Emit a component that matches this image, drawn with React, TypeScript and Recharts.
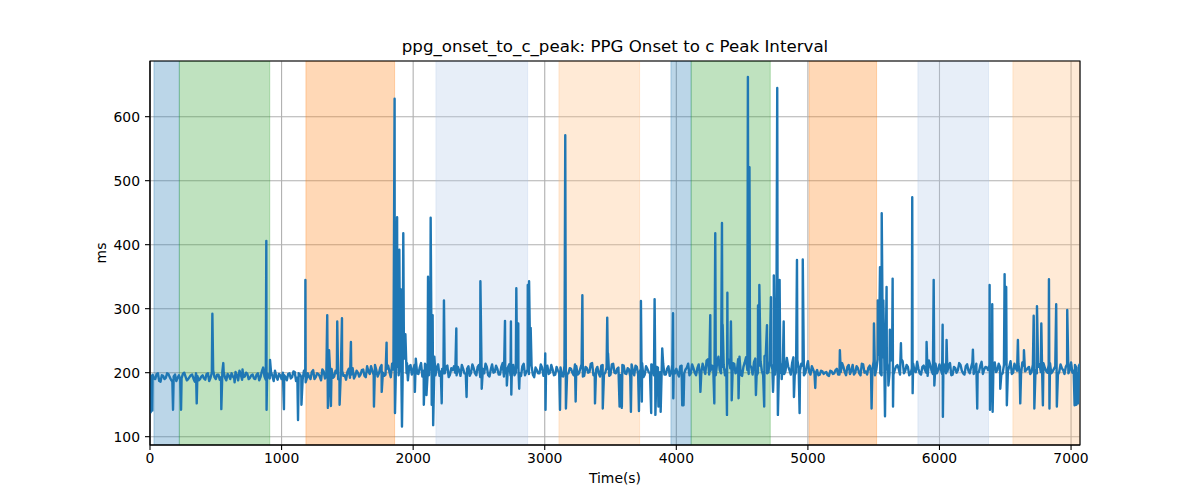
import { LineChart, Line, XAxis, YAxis, CartesianGrid, ReferenceArea } from 'recharts';

// baseline samples, one every 20 s starting at 0
const BASE_STEP = 20;
const baselineEven = [
  188, 197, 190, 199, 186, 195, 192, 198, 189, 194, 187, 196, 191, 200, 188, 193, 197, 186, 195, 190,
  196, 189, 199, 192, 204, 190, 197, 193, 201, 188, 195, 199, 191, 196, 203, 189, 194, 198, 192, 197,
  190, 199, 193, 208, 189, 196, 201, 187, 194, 198, 190, 196, 188, 199, 193, 201, 192, 197, 189, 195,
  199, 190, 204, 193, 198, 188, 202, 195, 190, 206, 194, 199, 189, 203, 196, 201, 192, 207, 195, 200,
  197, 205, 193, 202, 210, 196, 204, 199, 212, 195, 206, 201, 214, 198, 209, 215, 192, 226, 188, 212,
  205, 222, 198, 215, 203, 210, 196, 218, 201, 208, 195, 206, 199, 211, 197, 204, 200, 209, 195, 206,
  198, 210, 200, 207, 196, 212, 203, 199, 209, 194, 213, 201, 206, 197, 215, 199, 208, 196, 212, 200,
  207, 195, 214, 201, 198, 210, 193, 204, 199, 208, 196, 211, 200, 205, 197, 203, 208, 194, 212, 199,
  206, 196, 210, 199, 213, 195, 207, 201, 215, 198, 209, 194, 212, 200, 206, 197, 214, 199, 208, 195,
  211, 198, 205, 213, 196, 209, 200, 215, 197, 206, 199, 212, 195, 208, 201, 214, 197, 210, 199, 204,
  206, 194, 211, 199, 208, 196, 213, 200, 207, 195, 214, 198, 221, 203, 210, 196, 225, 199, 212, 205,
  220, 198, 214, 202, 225, 195, 216, 204, 212, 197, 222, 200, 218, 196, 228, 201, 214, 199, 226, 205,
  212, 198, 223, 204, 215, 196, 220, 203, 211, 199, 218, 197, 205, 200, 196, 203, 198, 201, 195, 202,
  199, 206, 197, 215, 201, 209, 198, 212, 200, 207, 196, 213, 202, 208, 199, 218, 205, 228, 196, 232,
  215, 198, 226, 204, 212, 197, 218, 203, 209, 198, 214, 201, 206, 197, 211, 200, 219, 203, 208, 199,
  213, 198, 209, 202, 215, 197, 207, 204, 212, 199, 210, 203, 208, 198, 214, 201, 217, 205, 208, 212,
  198, 216, 204, 209, 199, 213, 203, 218, 200, 207, 214, 198, 211, 204, 209, 201, 216, 199, 213, 205,
  208, 200, 215, 202, 210, 197, 213, 204, 209, 199, 216, 203, 208, 211,
];

// in-between samples, at 10 s + every 20 s
const baselineOdd = [
  195, 191, 198, 187, 196, 190, 199, 193, 186, 197, 192, 189, 198, 194, 190, 196, 191, 199, 188, 194,
  191, 198, 187, 200, 193, 197, 189, 202, 192, 198, 190, 194, 201, 188, 197, 193, 200, 190, 196, 191,
  197, 188, 202, 194, 199, 191, 195, 203, 189, 196, 200, 193, 198, 191, 202, 187, 199, 193, 203, 190,
  193, 201, 190, 199, 194, 205, 191, 200, 197, 192, 203, 190, 198, 195, 189, 206, 197, 191, 203, 194,
  204, 195, 210, 198, 203, 212, 194, 208, 200, 197, 211, 193, 205, 216, 196, 207, 222, 199, 210, 197,
  212, 199, 208, 194, 214, 198, 205, 211, 196, 213, 202, 199, 209, 193, 207, 210, 196, 203, 212, 199,
  206, 195, 213, 199, 209, 193, 206, 214, 196, 205, 200, 211, 197, 209, 194, 206, 213, 201, 196, 208,
  199, 210, 196, 205, 212, 197, 208, 199, 213, 195, 206, 198, 212, 196, 209, 201, 195, 211, 198, 207,
  200, 213, 197, 206, 194, 209, 200, 214, 196, 205, 199, 211, 197, 208, 195, 213, 200, 206, 197, 212,
  199, 207, 194, 203, 211, 197, 206, 193, 210, 201, 213, 196, 209, 200, 214, 197, 206, 195, 212, 199,
  199, 210, 196, 205, 214, 199, 207, 196, 213, 200, 206, 219, 197, 211, 200, 215, 204, 209, 196, 218,
  207, 215, 199, 221, 197, 209, 224, 198, 208, 216, 195, 211, 203, 226, 199, 219, 205, 197, 212, 200,
  218, 203, 210, 197, 224, 201, 207, 214, 196, 209, 201, 210, 199, 204, 197, 202, 200, 196, 203, 198,
  204, 197, 201, 209, 196, 212, 203, 197, 210, 199, 214, 200, 197, 211, 205, 196, 221, 199, 224, 205,
  202, 219, 197, 210, 206, 221, 199, 212, 196, 207, 203, 217, 199, 209, 204, 195, 212, 198, 214, 204,
  205, 214, 199, 211, 196, 209, 200, 215, 203, 197, 213, 199, 216, 205, 200, 211, 198, 209, 204, 199,
  210, 201, 214, 197, 212, 205, 209, 198, 214, 203, 199, 216, 202, 207, 198, 213, 204, 209, 201, 215,
  203, 212, 199, 206, 214, 201, 207, 198, 213, 204, 200, 212, 198,
];

// spikes and dips: [time (s), ms]
const events: [number, number][] = [
  [5, 138], [12, 195], [18, 141],
  [175, 142], [236, 142], [355, 152], [474, 292], [542, 143], [557, 215], [643, 185], [703, 205],
  [884, 406], [886, 142], [912, 220], [1018, 143],
  [1125, 126], [1151, 150], [1181, 345], [1183, 185], [1347, 290], [1352, 145], [1361, 235], [1375, 148],
  [1423, 280], [1441, 150], [1459, 285], [1527, 248], [1702, 147], [1761, 170], [1798, 247],
  [1859, 628], [1862, 137], [1872, 250], [1878, 443], [1884, 300], [1893, 205], [1895, 392], [1901, 260],
  [1908, 330], [1915, 116], [1925, 418], [1932, 240], [1941, 260], [1953, 215],
  [2013, 170], [2081, 150], [2101, 165], [2113, 350], [2125, 230], [2133, 442], [2141, 150], [2148, 290],
  [2152, 118], [2161, 225], [2217, 152], [2234, 313], [2328, 269], [2406, 162], [2511, 343], [2521, 175],
  [2698, 281], [2712, 180], [2743, 280], [2746, 166], [2784, 332], [2799, 277], [2806, 175],
  [2871, 337], [2881, 343], [2893, 270], [3004, 230], [3006, 142],
  [3116, 142], [3156, 571], [3161, 144], [3235, 155], [3286, 321], [3382, 152], [3441, 144], [3475, 286],
  [3481, 230], [3569, 147], [3586, 145], [3655, 139], [3716, 140], [3731, 312], [3738, 155], [3809, 137],
  [3835, 315], [3841, 134], [3864, 147], [3881, 139], [3893, 238], [3975, 293], [3977, 160], [4045, 149],
  [4055, 149],
  [4183, 170], [4258, 290], [4289, 152], [4296, 418], [4347, 434], [4352, 275], [4385, 134], [4388, 325],
  [4415, 280], [4421, 157], [4473, 160], [4544, 662], [4548, 205], [4556, 521], [4605, 165], [4621, 305],
  [4631, 337], [4668, 147], [4689, 274], [4719, 318], [4735, 170], [4741, 352], [4767, 645], [4772, 134],
  [4785, 345], [4801, 190], [4816, 280], [4894, 162], [4917, 376], [4937, 137], [4961, 377], [5056, 176],
  [5243, 235], [5484, 144], [5502, 277], [5531, 313], [5548, 365], [5561, 449], [5573, 313], [5586, 132],
  [5598, 334], [5612, 180], [5623, 267], [5644, 347], [5647, 147], [5707, 246], [5793, 474], [5796, 168],
  [5902, 248], [5956, 345], [5961, 180], [6024, 275], [6026, 131], [6054, 251],
  [6254, 236], [6287, 144], [6381, 337], [6384, 142], [6401, 307], [6404, 139], [6462, 175], [6495, 354],
  [6507, 334], [6512, 149], [6596, 251], [6614, 152], [6642, 235], [6716, 289], [6721, 144], [6741, 304],
  [6774, 277], [6786, 149], [6832, 346], [6836, 144], [6887, 307], [6892, 147], [6971, 298], [7027, 149],
  [7041, 150], [7055, 152], [7068, 214],
];

// shaded intervals: [start, end, colour]
const spans: [number, number, string][] = [
  [30, 223, '#1f77b4'],
  [223, 910, '#2ca02c'],
  [1185, 1859, '#ff7f0e'],
  [2173, 2870, '#aec7e8'],
  [3108, 3721, '#ffbb78'],
  [3959, 4113, '#1f77b4'],
  [4113, 4714, '#2ca02c'],
  [5010, 5522, '#ff7f0e'],
  [5836, 6373, '#aec7e8'],
  [6558, 7068, '#ffbb78'],
];

const xTicks = [0, 1000, 2000, 3000, 4000, 5000, 6000, 7000];
const yTicks = [100, 200, 300, 400, 500, 600];
const X_MAX = 7068;
const Y_DOMAIN: [number, number] = [87, 687];

const data = [
  ...baselineEven.map((v, i) => ({ t: i * BASE_STEP, v })),
  ...baselineOdd.map((v, i) => ({ t: i * BASE_STEP + BASE_STEP / 2, v })),
  ...events.map(([t, v]) => ({ t, v })),
].sort((a, b) => a.t - b.t);

const tickStyle = { fill: '#000', fontSize: 13.9, fontFamily: 'DejaVu Sans' };
const tickLine = { stroke: '#000', strokeWidth: 1.1 };

export default function App() {
  return (
    <div style={{ position: 'absolute', left: 0, top: 0, width: 1200, height: 500, background: '#fff', fontFamily: 'DejaVu Sans' }}>
      <LineChart width={1200} height={500} data={data} margin={{ top: 61, right: 120, bottom: 10, left: 0 }}>
        <CartesianGrid stroke="#b0b0b0" strokeWidth={1.1} />
        {spans.map(([a, b, c], i) => (
          <ReferenceArea
            key={i}
            x1={a}
            x2={b}
            y1={Y_DOMAIN[0]}
            y2={Y_DOMAIN[1]}
            fill={c}
            fillOpacity={0.3}
            stroke={c}
            strokeOpacity={0.3}
            ifOverflow="hidden"
          />
        ))}
        <XAxis
          dataKey="t"
          type="number"
          domain={[0, X_MAX]}
          ticks={xTicks}
          allowDataOverflow
          height={45}
          tickSize={5}
          tickMargin={3}
          tick={tickStyle}
          stroke="#000"
          tickLine={tickLine}
        />
        <YAxis
          type="number"
          domain={Y_DOMAIN}
          ticks={yTicks}
          allowDataOverflow
          width={150}
          tickSize={5}
          tickMargin={5}
          tick={tickStyle}
          stroke="#000"
          tickLine={tickLine}
        />
        <ReferenceArea x1={0} x2={X_MAX} y1={Y_DOMAIN[0]} y2={Y_DOMAIN[1]} fill="none" stroke="#000" strokeWidth={1.1} />
        <Line
          type="linear"
          dataKey="v"
          stroke="#1f77b4"
          strokeWidth={2.4}
          strokeLinejoin="round"
          dot={false}
          isAnimationActive={false}
        />
      </LineChart>
      <div style={{ position: 'absolute', left: 0, width: 1230, top: 37, textAlign: 'center', fontSize: 16.67, color: '#000', whiteSpace: 'nowrap' }}>
        ppg_onset_to_c_peak: PPG Onset to c Peak Interval
      </div>
      <div style={{ position: 'absolute', left: 0, width: 1230, top: 470, textAlign: 'center', fontSize: 13.9, color: '#000' }}>
        Time(s)
      </div>
      <div style={{ position: 'absolute', left: 101, top: 253, fontSize: 13.9, color: '#000', transform: 'translate(-50%, -50%) rotate(-90deg)' }}>
        ms
      </div>
    </div>
  );
}
